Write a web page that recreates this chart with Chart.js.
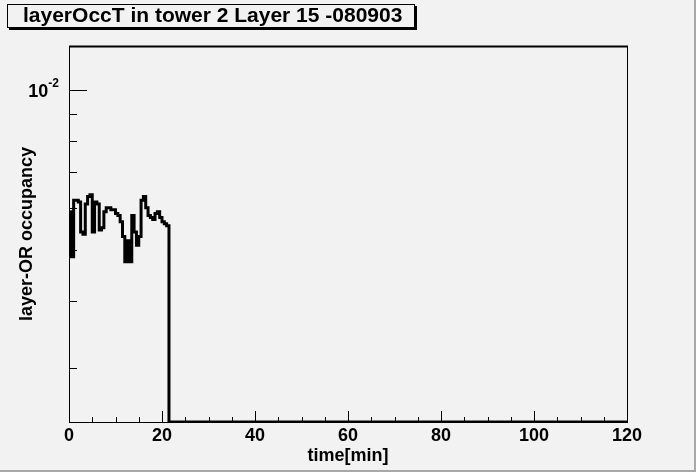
<!DOCTYPE html>
<html>
<head>
<meta charset="utf-8">
<script src="https://cdn.jsdelivr.net/npm/chart.js@4"></script>
<style>
  html, body { margin: 0; padding: 0; background: #f2f2f2; }
  #wrap { width: 696px; height: 472px; position: relative; }
</style>
</head>
<body>
<div id="wrap"><canvas id="myChart"></canvas></div>
<script>
// histogram: 0.5 min bins from 0 to 21.5 min, empty afterwards
const titleText = 'layerOccT in tower 2 Layer 15 -080903';
const binWidth = 0.5;
const occupancy = [
  5.9e-3, 4.85e-3, 6.2e-3, 6.2e-3, 6.15e-3, 5.4e-3, 5.35e-3, 6.1e-3,
  6.3e-3, 6.35e-3, 5.4e-3, 6.15e-3, 6.1e-3, 5.45e-3, 5.5e-3, 5.9e-3,
  6.0e-3, 6.0e-3, 5.95e-3, 5.95e-3, 5.85e-3, 5.8e-3, 5.65e-3, 5.3e-3,
  4.75e-3, 5.2e-3, 4.75e-3, 5.8e-3, 5.4e-3, 5.1e-3, 5.3e-3, 6.2e-3,
  6.3e-3, 6.0e-3, 5.8e-3, 5.75e-3, 5.7e-3, 5.85e-3, 5.9e-3, 5.75e-3,
  5.65e-3, 5.6e-3, 5.55e-3
];
const emptyRange = [21.5, 120];   // bins with zero occupancy

const xRange = [0, 120];
const yRange = [2.37e-3, 1.21e-2];
const xMajorTicks = [0, 20, 40, 60, 80, 100, 120];
const xMinorTicks = [5, 10, 15, 25, 30, 35, 45, 50, 55, 65, 70, 75, 85, 90, 95, 105, 110, 115];
const yMajorTicks = [1e-2];
const yMinorTicks = [9e-3, 8e-3, 7e-3, 6e-3, 5e-3, 4e-3, 3e-3];

const fontFamily = '"Liberation Sans", Arial, sans-serif';

// build step points (left bin edges), zero bins sit on the axis minimum
const points = occupancy.map((v, i) => ({ x: i * binWidth, y: v }));
points.push({ x: emptyRange[0], y: yRange[0] });
points.push({ x: emptyRange[1], y: yRange[0] });

const rootLook = {
  id: 'rootLook',
  beforeDraw(chart) {
    const c = chart.ctx;
    c.save();
    c.fillStyle = '#f2f2f2';
    c.fillRect(0, 0, chart.width, chart.height);
    // canvas edge
    c.fillStyle = '#a8a8a8';
    c.fillRect(0, chart.height - 2, chart.width, 2);
    c.fillRect(chart.width - 2, 0, 2, chart.height);
    // title box with shadow
    c.fillStyle = '#000';
    c.fillRect(9, 6, 408, 24);
    c.fillStyle = '#f2f2f2';
    c.fillRect(7, 4, 408, 24);
    c.strokeStyle = '#000';
    c.lineWidth = 1;
    c.strokeRect(7.5, 4.5, 407, 23);
    c.fillStyle = '#000';
    c.font = 'bold 21px ' + fontFamily;
    c.textBaseline = 'middle';
    c.textAlign = 'left';
    c.fillText(titleText, 23, 16);
    c.restore();
  },
  afterDraw(chart) {
    const c = chart.ctx;
    const a = chart.chartArea;
    const xs = chart.scales.x, ys = chart.scales.y;
    c.save();
    c.strokeStyle = '#000';
    c.lineWidth = 1;
    c.beginPath();
    xMajorTicks.forEach(t => {
      const px = Math.round(xs.getPixelForValue(t)) + 0.5;
      c.moveTo(px, a.bottom); c.lineTo(px, a.bottom - 11);
    });
    xMinorTicks.forEach(t => {
      const px = Math.round(xs.getPixelForValue(t)) + 0.5;
      c.moveTo(px, a.bottom); c.lineTo(px, a.bottom - 5);
    });
    yMajorTicks.forEach(t => {
      const py = Math.round(ys.getPixelForValue(t)) + 0.5;
      c.moveTo(a.left, py); c.lineTo(a.left + 18, py);
    });
    yMinorTicks.forEach(t => {
      const py = Math.round(ys.getPixelForValue(t)) + 0.5;
      c.moveTo(a.left, py); c.lineTo(a.left + 8, py);
    });
    c.stroke();
    // frame
    c.strokeRect(Math.round(a.left) + 0.5, Math.round(a.top) + 0.5,
      Math.round(a.right - a.left), Math.round(a.bottom - a.top));
    c.fillRect(a.left, a.top - 0.5, a.right - a.left + 1, 2);
    // 10^-2 label
    yMajorTicks.forEach(t => {
      const py = ys.getPixelForValue(t);
      c.fillStyle = '#000';
      c.textBaseline = 'alphabetic';
      c.textAlign = 'right';
      c.font = 'bold 12px ' + fontFamily;
      c.fillText('-2', a.left - 10, py - 3);
      const supW = c.measureText('-2').width;
      c.font = 'bold 18px ' + fontFamily;
      c.fillText('10', a.left - 10 - supW, py + 7);
    });
    c.restore();
  }
};

const ctx = document.getElementById('myChart').getContext('2d');
const myChart = new Chart(ctx, {
  type: 'line',
  data: {
    datasets: [{
      data: points,
      stepped: true,
      borderColor: '#000',
      borderWidth: 3,
      pointRadius: 0,
      fill: false,
      tension: 0
    }]
  },
  options: {
    responsive: true,
    maintainAspectRatio: false,
    animation: false,
    devicePixelRatio: 1,
    layout: { padding: { top: 46, right: 69, left: 0, bottom: 0 } },
    plugins: {
      legend: { display: false },
      tooltip: { enabled: false }
    },
    scales: {
      x: {
        type: 'linear',
        min: xRange[0],
        max: xRange[1],
        afterFit: s => { s.height = 50; },
        afterBuildTicks: s => { s.ticks = xMajorTicks.map(v => ({ value: v })); },
        grid: { display: false, drawTicks: false },
        border: { display: false },
        ticks: {
          padding: 3,
          maxRotation: 0,
          color: '#000',
          font: { family: fontFamily, size: 18, weight: 'bold' }
        },
        title: {
          display: true,
          text: 'time[min]',
          color: '#000',
          padding: { top: 0, bottom: 5 },
          font: { family: fontFamily, size: 18, weight: 'bold' }
        }
      },
      y: {
        type: 'logarithmic',
        min: yRange[0],
        max: yRange[1],
        afterFit: s => { s.width = 69; },
        grid: { display: false, drawTicks: false },
        border: { display: false },
        ticks: { display: false },
        title: {
          display: true,
          text: 'layer-OR occupancy',
          color: '#000',
          padding: { top: 16, bottom: 0 },
          font: { family: fontFamily, size: 18, weight: 'bold' }
        }
      }
    }
  },
  plugins: [rootLook]
});
</script>
</body>
</html>
